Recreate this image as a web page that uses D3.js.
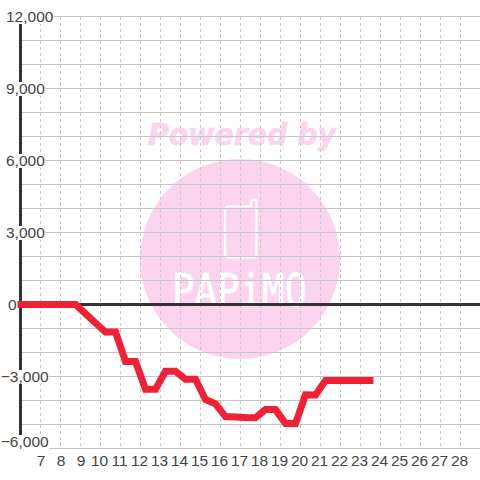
<!DOCTYPE html>
<html><head><meta charset="utf-8">
<script src="https://cdnjs.cloudflare.com/ajax/libs/d3/7.8.5/d3.min.js"></script>
<style>html,body{margin:0;padding:0;background:#fff}svg{display:block}</style></head>
<body><svg id="c" width="480" height="480"></svg>
<script>
const hours = [5.85,8.75,9.25,9.75,10.25,10.75,11.25,11.75,12.25,12.75,13.25,13.75,14.25,14.75,15.25,15.75,16.25,16.75,17.25,17.75,18.25,18.75,19.25,19.75,20.25,20.75,21.25,21.75,23.65];
const values = [0,0,-380,-770,-1150,-1150,-2375,-2375,-3530,-3530,-2780,-2780,-3110,-3110,-3960,-4140,-4670,-4690,-4710,-4720,-4380,-4380,-4960,-4960,-3760,-3770,-3170,-3170,-3170];
const yLabels = [12000,9000,6000,3000,0,-3000,-6000];
const yGrid = d3.range(-6000,12001,1000);
const xLabels = d3.range(7,29);
const xGrid = d3.range(7,30);

const svg = d3.select("#c");
const x = d3.scaleLinear().domain([6,30]).range([20.5,500.5]);
const y = d3.scaleLinear().domain([12000,-6000]).range([16.5,448.5]);
const INK="#444", PINK="#fbd5ee";

// watermark
const wm = svg.append("g");
wm.append("text").attr("x",148).attr("y",145).attr("font-family","DejaVu Sans").attr("font-weight","bold").attr("font-style","italic").attr("font-size",30).attr("fill",PINK).attr("stroke",PINK).attr("stroke-width",0.6).attr("textLength",188).attr("lengthAdjust","spacingAndGlyphs").text("Powered by");
wm.append("circle").attr("cx",240).attr("cy",259).attr("r",100).attr("fill",PINK);
wm.append("path").attr("d","M229 206.5H251V202Q251 199.5 254 199.5Q256.5 199.5 256.5 202V254Q256.5 257.5 253 257.5H228Q225 257.5 225 254V210Q225 206.5 229 206.5Z").attr("fill","none").attr("stroke","#fff").attr("stroke-width",2.2);
wm.append("text").attr("x",172).attr("y",305.5).attr("font-family","DejaVu Sans Mono").attr("font-size",44).attr("fill","#fff").attr("stroke","#fff").attr("stroke-width",0.6).attr("textLength",135).attr("lengthAdjust","spacingAndGlyphs").text("PAPiMO");

// grid
svg.append("g").selectAll("line").data(xGrid).join("line")
 .attr("x1",d=>x(d)).attr("x2",d=>x(d)).attr("y1",17).attr("y2",448)
 .attr("stroke","#c8c8c8").attr("stroke-width",1).attr("stroke-dasharray","3,3");
svg.append("g").selectAll("line").data(yGrid).join("line")
 .attr("x1",20).attr("x2",480).attr("y1",d=>y(d)).attr("y2",d=>y(d))
 .attr("stroke","#c6c6c6").attr("stroke-width",1);

// axes
svg.append("line").attr("x1",20.5).attr("x2",20.5).attr("y1",y(12000)).attr("y2",y(-6000)).attr("stroke","#333").attr("stroke-width",3);
svg.append("line").attr("x1",20).attr("x2",480).attr("y1",y(0)).attr("y2",y(0)).attr("stroke","#333").attr("stroke-width",3);

// y labels with white background
const labX = v => v<0 ? 0.8 : v===0 ? 8 : 6;
const labY = v => v===-6000 ? y(v)-1.5-6 : y(v)-0.5;
const gy = svg.append("g").selectAll("g").data(yLabels).join("g");
gy.append("text").attr("x",labX).attr("y",d=>labY(d)+6).attr("font-family","Liberation Sans").attr("font-size",15.5).attr("fill",INK).text(d3.format(","));
gy.each(function(d){
  const b=d3.select(this).select("text").node().getBBox();
  d3.select(this).insert("rect","text").attr("x",b.x).attr("y",labY(d)-6).attr("width",b.width).attr("height",14).attr("fill","#fff");
});

// x labels
svg.append("g").selectAll("text").data(xLabels).join("text")
 .attr("x",d=>x(d)+(d<10?0.5:-1)).attr("y",466).attr("text-anchor","middle").attr("font-family","Liberation Sans").attr("font-size",15.5).attr("fill",INK).text(d=>d);

// line
const line = d3.line().x((d,i)=>x(hours[i])).y(d=>y(d)).curve(d3.curveLinear);
svg.append("path").datum(values).attr("d",line).attr("fill","none").attr("stroke","#ee2236").attr("stroke-width",7).attr("stroke-linejoin","miter");
</script></body></html>
